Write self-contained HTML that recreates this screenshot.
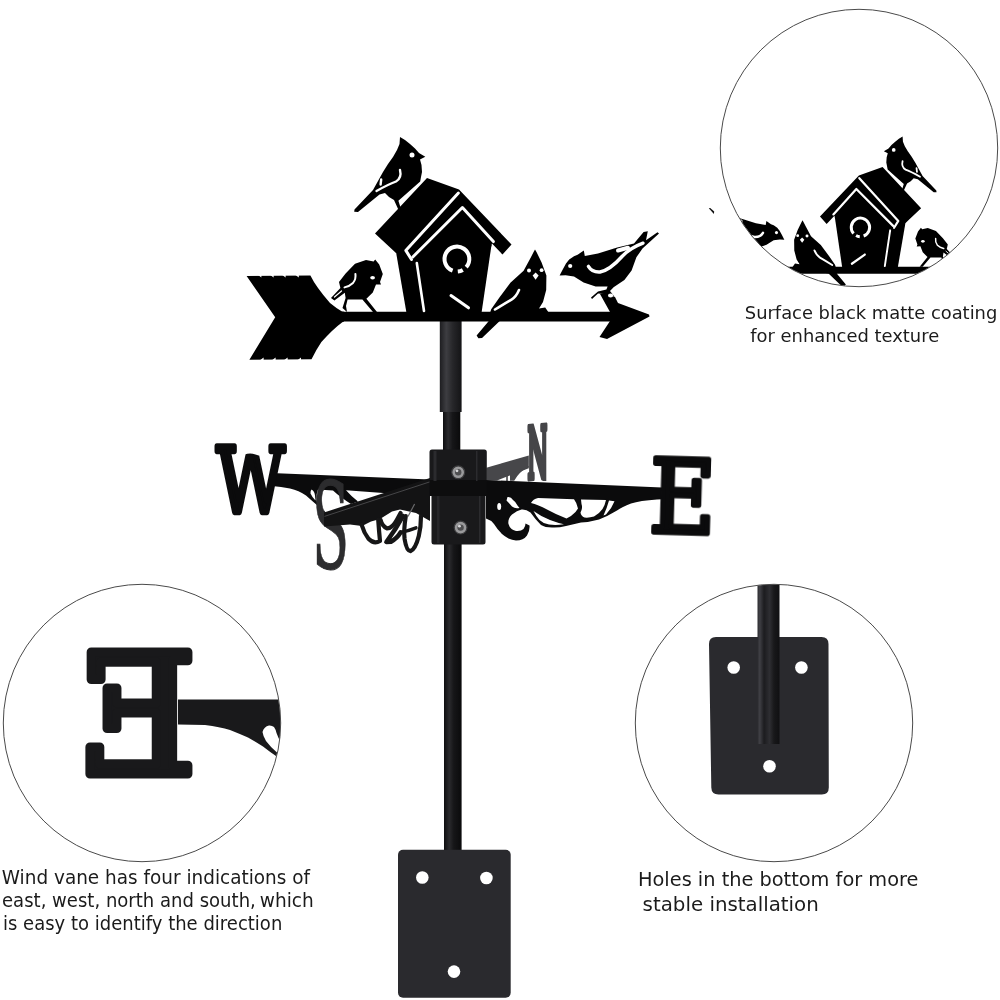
<!DOCTYPE html>
<html lang="en"><head><meta charset="utf-8"><title>Wind vane</title>
<style>
html,body{margin:0;padding:0;background:#fff;}
body{width:1000px;height:1000px;overflow:hidden;font-family:"Liberation Sans",sans-serif;}
svg{display:block}
.cap text{font-family:"DejaVu Sans","Liberation Sans",sans-serif;fill:#1b1b1b;}
</style></head><body>
<svg width="1000" height="1000" viewBox="0 0 1000 1000">
<defs>

<g id="vane">
<path d="M246.6,276 L310.4,275.5 Q316,287 330,303 Q336,308 342,311.5 L344,311.8 L344,321.6 L342.3,322.2 Q333,329 321.4,342 Q316,350 311.5,359.3 L249.4,359.7 L275.2,317.3 Z"/>
<polygon points="340,311.8 612,311.8 612,321.4 340,321.4"/>
<polygon points="600,294 606,293 615,297 618,303 649,314.5 649.5,316.5 607,339 599.5,337 610,321 610,312"/>
<polygon points="427,178 459,189.5 511.5,244.5 502.5,254.5 492,243.5 491,247 396,253 389,246.5 375,233.5"/>
<polygon points="396,252 491.5,245 481.5,313 406.5,313"/>
<polygon points="375.2,259.6 379.2,264.4 382.8,274 380,282 381,284.6 376,284.4 372.8,292.4 366.4,298.8 377,312 373,312 362.4,299.6 347.6,299.6 346,306 347,312 342.5,308 345.6,298 344.8,292.8 334.4,300.6 331,298 340.4,288 339,282 345.6,273.5 355,263.8 366,260 373.6,261.5"/>
<polygon points="400,137 405,140 410,144 415,148.5 419,153 425.3,156.8 420,159.5 421.5,165 422,172 421,177 420.2,181.5 398.4,200.8 400.6,207.8 398.2,209.3 394,200 389,197 385,193 379.5,194.5 358,212 354.2,211.8 354.5,209.5 373,190 378,181 383,172 388,164 393,157 397,150 399.5,144"/>
<polygon points="535,249.5 536.5,252 541.6,262.4 546.4,275.6 546.2,290 543,302 539,308.5 545.2,307.5 549,313 500,320.8 482,338 478.4,338.2 476.6,335.6 488.6,321.2 490,313 491.2,309.2 499.6,297.2 510.4,282.8 523.6,270.8 530.8,257.6 533.6,252"/>
<polygon points="559.6,275.6 563,269 566,263.5 569.2,259.6 574,256.3 577.6,254.8 583.8,250.4 584.8,256 598,253.6 617.2,247.6 634,243.4 643.6,232 647.8,231.2 646,240.2 657.5,232.3 659,233.6 642.5,248.5 636.4,257.2 631.6,270.4 624.4,280 613.6,287.2 610,291 614,296 604,294 598,293.6 592,299 591,297.5 598,291.5 606.4,289.5 607.6,286.6 595.6,286.6 583.6,282.4 574,276.4 565.6,275.2"/>
<g fill="none" stroke="#fff" stroke-width="3" stroke-linecap="round" stroke-linejoin="round">
<polyline points="458.4,193 405.8,250.4 411.5,259.5"/>
<polyline points="412.8,257 462.4,207.5 493.4,241.6"/>
<polyline points="416.8,263 424,311" stroke-width="2.6"/>
<path d="M452.6,270.6 A12.4,12.4 0 1 1 466.2,267.2" stroke-width="4" stroke-linecap="butt"/>
<path d="M457.8,271.6 A12.4,12.4 0 0 0 462.8,270" stroke-width="4" stroke-linecap="butt"/>
<line x1="451" y1="295.5" x2="468.5" y2="307.8" stroke-width="3"/>
<path d="M400,170 Q402,178 396,181.5 Q388,184.5 376.5,191" stroke-width="2.4"/>
<path d="M381.2,179.5 L380.6,184.5" stroke-width="2.4"/>
<path d="M519,290 Q516,297 511.5,299.6 Q503,304.5 495,309.5" stroke-width="2.6"/>
<path d="M588.4,266.4 Q592,272.5 600,272 Q610,270 622,256.5 Q630,248 643,243.2" stroke-width="3.4"/>
<path d="M618,250.5 L628,247.8" stroke-width="4"/>
<path d="M355.4,274 Q356.2,279 353,283 Q350,286 344.5,287.4" stroke-width="2"/>
<path d="M341.5,291 L334.5,297" stroke-width="1.2"/>
</g>
<g fill="#fff" stroke="none">
<circle cx="412" cy="155" r="2.5"/>
<circle cx="529" cy="270.6" r="2"/>
<circle cx="541.6" cy="270.2" r="1.9"/>
<polygon points="535.6,272.6 538.6,275.6 535.6,279.8 532.6,275.6"/>
<circle cx="570.2" cy="266" r="2.1"/>
<ellipse cx="372.6" cy="277.8" rx="2.4" ry="1.7"/>
<ellipse cx="610.6" cy="295.6" rx="2.6" ry="2"/>
<polygon points="257.8,274.8 261.4,277.4 261.4,274.8"/><polygon points="270,274.8 273.6,277.4 273.6,274.8"/><polygon points="282,274.8 285.6,277.4 285.6,274.8"/><polygon points="295.2,274.8 298.8,277.4 298.8,274.8"/>
<polygon points="260,360.2 263.6,357.6 263.6,360.2"/><polygon points="272,360.2 275.6,357.6 275.6,360.2"/><polygon points="284,360.2 287.6,357.6 287.6,360.2"/><polygon points="297.4,360.2 301,357.6 301,360.2"/>
</g>
</g>
</g>

<filter id="noop" filterUnits="userSpaceOnUse" x="0" y="0" width="1000" height="1000"><feOffset dx="0" dy="0"/></filter>
<clipPath id="c1"><circle cx="859" cy="148" r="138.5"/></clipPath>
<clipPath id="c2"><circle cx="142" cy="723" r="138.5"/></clipPath>
<clipPath id="c3"><circle cx="774" cy="723" r="138.5"/></clipPath>
<linearGradient id="pole" x1="0" x2="1" y1="0" y2="0">
<stop offset="0" stop-color="#0e0e10"/><stop offset="0.3" stop-color="#2a2a2d"/><stop offset="0.55" stop-color="#161618"/><stop offset="1" stop-color="#0a0a0b"/>
</linearGradient>
<linearGradient id="pole2" x1="0" x2="1" y1="0" y2="0">
<stop offset="0" stop-color="#2c2c30"/><stop offset="0.1" stop-color="#404045"/><stop offset="0.3" stop-color="#1c1c1f"/><stop offset="0.55" stop-color="#2e2e32"/><stop offset="0.75" stop-color="#18181a"/><stop offset="1" stop-color="#101012"/>
</linearGradient>
<linearGradient id="sleeve" x1="0" x2="1" y1="0" y2="0">
<stop offset="0" stop-color="#1d1d20"/><stop offset="0.3" stop-color="#3d3d41"/><stop offset="0.6" stop-color="#262629"/><stop offset="1" stop-color="#141416"/>
</linearGradient>
</defs>
<rect width="1000" height="1000" fill="#fff"/>
<g filter="url(#noop)">

<!-- POLE -->
<rect x="443" y="405" width="17.3" height="50" fill="url(#pole)"/>
<rect x="444" y="540" width="17.6" height="315" fill="url(#pole)"/>
<rect x="439.8" y="318" width="21.8" height="94" fill="url(#sleeve)"/>

<!-- main vane -->
<use href="#vane" fill="#000"/>


<g id="compass">
<!-- N arm (behind) -->
<polygon points="486.3,467.7 528.8,455.4 528.8,468.2 497,480.5 486.3,480.5" fill="#47474a"/>
<path d="M528.8,467 Q519,471.5 514.2,480.8 L510,480.8 L510,474 L528.8,466 Z" fill="#47474a"/>
<rect x="506.2" y="474" width="1.6" height="7" fill="#47474a"/>
<rect x="529.2" y="431" width="4.2" height="49.5" fill="#454548"/><rect x="542.4" y="428" width="3.9" height="53" fill="#454548"/>
<text transform="translate(527.2,479) skewY(-4.5) scale(0.222,0.72)" font-family="'DejaVu Serif','Liberation Serif',serif" font-weight="bold" font-size="100" fill="#454548" stroke="#454548" stroke-width="7" stroke-linejoin="round">N</text>
<!-- E arm + bracket -->
<path d="M486,480 L662,487.4 L662,499.2 L657,499.4 Q640,500.5 631,503.5 Q622,507 617,510.5 Q608,516 599,519.5 Q590,522 581,522.5 L566,526 Q558,528 552,527.5 Q545,527.5 541,525 Q535,519 530.5,512.5 Q526,509 521.5,509.5 Q517,510.5 512,514.5 Q507.5,519 508.5,524 Q510,529.5 516,531 Q521,531.5 523.5,529 Q525.5,526.5 525.5,523.5 L529.5,525.5 Q530,531 527,535.5 Q523.5,540.5 516,540.5 Q508,539.5 502,534 Q497,529 494,524 Q491,520 486,518.5 Z" fill="#0b0b0c"/>
<g fill="#fff">
<path d="M538,498 L574,499.2 Q577,503 578,508.5 Q576,512.5 571,516 L566.5,518.5 Q556,514.5 547,509.5 Q538,504.5 531,503 Q533,499 538,498 Z"/>
<path d="M581,499.6 L606,500 Q605,505 602.5,509 Q599,514 594,516.5 Q589,518 584.5,517.5 Q581,516 580.5,512.5 Q583,508 581.5,504 Z"/>
<path d="M609,500.6 L614.5,501.3 Q612,508 606,514.5 L603.5,515.5 Q607,508 609,500.6 Z"/>
<path d="M533.5,511 Q541,516.5 550,520 Q558,523 564,524.3 Q556,525.6 549,524.6 Q543,523.5 539.5,520 Q536,516 533.5,511 Z"/>
<ellipse cx="499.2" cy="506.5" rx="2" ry="3.6"/>
<path d="M507.5,497 Q511,496.5 513,500 Q516,502 517.5,505.5 L519.5,508 Q515,509 512,506.5 Q509,503 506.5,500.5 Z"/>
</g>
<!-- W arm + bracket -->
<path d="M271,473 L430,479.4 L430,496 L390,493.6 L346,490.2 Q352,497 358,501.5 L351,504 Q340,497 333,490.5 L318,489.5 Q316,494 316.5,500 L318,506 Q311,500 306,495.5 Q299,490.5 290,488.5 Q281,486.5 272,486 Z" fill="#0b0b0c"/>
<path d="M311.5,489.5 Q314.5,491 315,495.5 L315.5,500.5 Q312,497 310.5,493.5 Q310.3,491 311.5,489.5 Z" fill="#fff"/>
<!-- S letter -->
<text transform="translate(312.06,568) scale(0.543,1.195)" font-family="'DejaVu Serif','Liberation Serif',serif" font-size="100" fill="#2c2c2e" stroke="#2c2c2e" stroke-width="0.8">S</text>
<!-- S arm -->
<polygon points="430,478 324,512.6 324,526.5 350,524.5 362,526 371,521.5 380,519 392,511.5 400,509.5 416,513 430,521" fill="#131314"/>
<line x1="430" y1="481.8" x2="324.5" y2="516.4" stroke="#4c4c4e" stroke-width="0.9"/>
<g fill="none" stroke="#161617" stroke-width="4.2" stroke-linecap="round" stroke-linejoin="round">
<path d="M361.7,525 Q364,533 368.5,538.8 Q374,544.5 380,541 Q379,531 378.2,519.5"/>
<path d="M380.6,520 Q382,526 387,528.4 Q392,528.6 396.8,520 L400.6,513"/>
<path d="M403,516 Q396,529 386.4,542 L391,541.6 Q397,538.5 400.6,532.4" stroke-width="4.6"/>
<path d="M405.8,516 Q403.5,530 404.6,539 Q406.5,551 410.5,551.2 Q415.5,549 418.8,536 Q421,527 421,516"/>
<path d="M400.6,532.3 Q408,531 416,527.8" stroke-width="3.4"/>
</g>
<line x1="408" y1="516.5" x2="414.6" y2="504" stroke="#6a6a6c" stroke-width="1.2"/>
<!-- hub -->
<rect x="429.5" y="449.5" width="57.3" height="33" rx="2.5" fill="#19191b"/>
<rect x="431.5" y="494" width="54" height="50.5" rx="2.5" fill="#19191b"/>
<rect x="429.5" y="480" width="57.3" height="16" fill="#0d0d0e"/>
<rect x="433.5" y="451" width="3" height="30" fill="#2b2b2e"/>
<rect x="476" y="451" width="1.5" height="30" fill="#2b2b2e"/>
<rect x="479" y="496" width="1.5" height="47" fill="#2b2b2e"/>
<rect x="437" y="496" width="2.5" height="47" fill="#252528"/>
<g>
<circle cx="458.2" cy="472.3" r="6.4" fill="#9a9a9c"/><circle cx="458.2" cy="472.3" r="6.4" fill="none" stroke="#3c3c3e" stroke-width="1.2"/>
<circle cx="458.2" cy="472.3" r="3.2" fill="#4e4e50"/><circle cx="457" cy="470.8" r="1.4" fill="#d8d8da"/>
<circle cx="460.6" cy="527.6" r="6.4" fill="#9a9a9c"/><circle cx="460.6" cy="527.6" r="6.4" fill="none" stroke="#3c3c3e" stroke-width="1.2"/>
<circle cx="460.6" cy="527.6" r="3.2" fill="#4e4e50"/><circle cx="459.4" cy="526.2" r="1.4" fill="#d8d8da"/>
</g>
<!-- W and E letters -->
<text transform="translate(216.6,511.85) scale(0.665,0.899)" font-family="'DejaVu Serif','Liberation Serif',serif" font-size="100" fill="#0b0b0c" stroke="#0b0b0c" stroke-width="7" stroke-linejoin="round">W</text>
<path d="M242.6,441 L264,441 L264,444 L259.4,455.8 L255.5,454.6 Q250,452.6 244.6,454.6 Q243,453 242.6,451 Z" fill="#fff"/>
<text transform="translate(648.6,531.6) rotate(1.6) scale(0.904,1.008)" font-family="'DejaVu Serif','Liberation Serif',serif" font-size="100" fill="#0b0b0c" stroke="#0b0b0c" stroke-width="5.5" stroke-linejoin="round">E</text>
</g>


<!-- bottom plate -->
<rect x="398" y="849.7" width="112.7" height="148" rx="5" fill="#2a2a2e"/>
<circle cx="422.3" cy="877.5" r="6.3" fill="#fff"/>
<circle cx="486.4" cy="878" r="6.3" fill="#fff"/>
<circle cx="454" cy="971.6" r="6.3" fill="#fff"/>

<!-- circle 1: detail of silhouette (mirrored) -->
<g clip-path="url(#c1)"><use href="#vane" fill="#000" transform="translate(1199,34.4) scale(-0.741,0.745)"/></g>
<circle cx="859" cy="148" r="138.7" fill="none" stroke="#4a4a4a" stroke-width="1"/>
<polygon points="708.8,208.2 710.2,207.9 714.2,211.6 713.9,214" fill="#111"/>

<!-- circle 2: E detail -->
<g clip-path="url(#c2)">
<path d="M178,699.5 L290,699.5 L290,770 L276,756 Q270,752 263,746.5 Q256,742 248,737.5 Q240,734 230,730 Q220,727 205,725 L178,724.5 Z" fill="#19191b"/>
<path d="M269,725.5 Q264,726.5 262.5,732 Q263,736 266,741 Q270,746.5 277,752.5 L282,756 L282,744 Q278,738 276.5,733 Q275.5,729 274,727 Q272,725.3 269,725.5 Z" fill="#fff"/>
<text transform="translate(197,774.4) scale(-1.648,1.674)" font-family="'DejaVu Serif','Liberation Serif',serif" font-size="100" fill="#19191b" stroke="#19191b" stroke-width="5.5" stroke-linejoin="round">E</text>
</g>
<circle cx="142" cy="723" r="138.7" fill="none" stroke="#4a4a4a" stroke-width="1"/>

<!-- circle 3: plate detail -->
<g clip-path="url(#c3)">
<path d="M716,637 L821.5,637 Q828.5,637 828.5,644 L828.8,787.6 Q828.8,794.6 821.8,794.6 L718.5,794.6 Q711.5,794.6 711.3,787.6 L709,644 Q709,637 716,637 Z" fill="#2a2a2e"/>
<rect x="757.5" y="560" width="22" height="184" fill="url(#pole2)"/>
<circle cx="733.7" cy="667.5" r="6.3" fill="#fff"/>
<circle cx="801.4" cy="667.5" r="6.3" fill="#fff"/>
<circle cx="769.5" cy="766.3" r="6.3" fill="#fff"/>
</g>
<circle cx="774" cy="723" r="138.7" fill="none" stroke="#4a4a4a" stroke-width="1"/>

<!-- captions -->
<g class="cap">
<text x="744.8" y="319.2" font-size="17.9" textLength="252.5" lengthAdjust="spacingAndGlyphs">Surface black matte coating</text>
<text x="750.2" y="342.1" font-size="17.9" textLength="189" lengthAdjust="spacingAndGlyphs">for enhanced texture</text>
<text x="1.8" y="884.2" font-size="18.6" textLength="308.2" lengthAdjust="spacingAndGlyphs">Wind vane has four indications of</text>
<text x="2" y="906.7" font-size="18.6" textLength="253.8" lengthAdjust="spacingAndGlyphs">east, west, north and south,</text>
<text x="259.8" y="906.7" font-size="18.6" textLength="54" lengthAdjust="spacingAndGlyphs">which</text>
<text x="3" y="929.8" font-size="18.6" textLength="279.3" lengthAdjust="spacingAndGlyphs">is easy to identify the direction</text>
<text x="638" y="885.6" font-size="18.9" textLength="280.4" lengthAdjust="spacingAndGlyphs">Holes in the bottom for more</text>
<text x="642.6" y="910.6" font-size="18.9" textLength="176.2" lengthAdjust="spacingAndGlyphs">stable installation</text>
</g>

</g>
</svg>
</body></html>
